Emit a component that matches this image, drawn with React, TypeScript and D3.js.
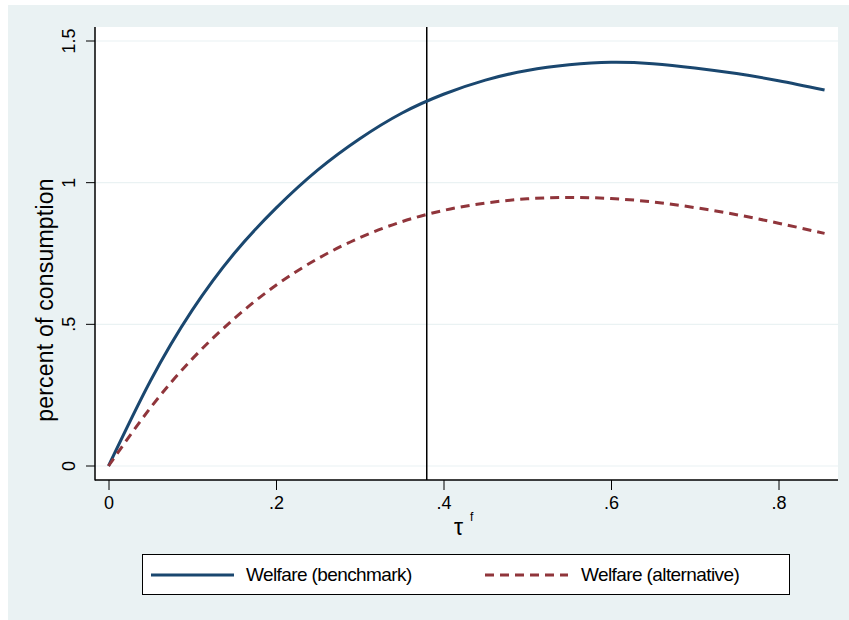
import React, { useRef, useEffect } from "react";
import * as d3 from "d3";

// values
const taus = [0, 0.05, 0.1, 0.15, 0.2, 0.25, 0.3, 0.35, 0.4, 0.45, 0.5, 0.55, 0.6, 0.65, 0.7, 0.75, 0.8, 0.855];
const benchmark = [0, 0.3, 0.55, 0.75, 0.91, 1.045, 1.155, 1.245, 1.312, 1.362, 1.396, 1.416, 1.425, 1.42, 1.405, 1.385, 1.36, 1.327];
const alternative = [0, 0.205, 0.378, 0.52, 0.638, 0.732, 0.806, 0.862, 0.902, 0.928, 0.943, 0.948, 0.944, 0.932, 0.912, 0.887, 0.857, 0.821];
const xTicks = [0, 0.2, 0.4, 0.6, 0.8];
const yTicks = [0, 0.5, 1, 1.5];
const marker = 0.38;
const seriesNames = ["Welfare (benchmark)", "Welfare (alternative)"];

const W = 849, H = 620;
const font = "'Liberation Sans', Arial, sans-serif";

const fmt = (v: number) => (v === 0 ? "0" : String(v).replace(/^0\./, "."));

const App = () => {
  const svgRef = useRef<SVGSVGElement>(null);

  useEffect(() => {
    const svg = d3.select(svgRef.current);
    svg.selectAll("*").remove();

    const plot = { left: 95, right: 838, top: 27, bottom: 480 };

    const x = d3.scaleLinear().domain([0, 0.8]).range([108.5, 778.5]);
    const y = d3.scaleLinear().domain([0, 1.5]).range([466, 41]);

    // outer background
    svg.append("rect")
      .attr("x", 8).attr("y", 5)
      .attr("width", W - 8).attr("height", H - 5)
      .attr("fill", "#eaf2f3");

    svg.append("rect")
      .attr("x", plot.left).attr("y", plot.top)
      .attr("width", plot.right - plot.left).attr("height", plot.bottom - plot.top)
      .attr("fill", "#ffffff");

    // grid
    svg.append("g").selectAll("line").data(yTicks).enter().append("line")
      .attr("x1", plot.left).attr("x2", plot.right)
      .attr("y1", d => y(d)).attr("y2", d => y(d))
      .attr("stroke", "#eaf2f3").attr("stroke-width", 1.2);

    // y axis
    const yAxis = svg.append("g")
      .attr("transform", `translate(${plot.left},0)`)
      .call(d3.axisLeft(y).tickValues(yTicks).tickSize(9).tickFormat(d => fmt(+d)));
    yAxis.select(".domain").remove();
    yAxis.selectAll("line").attr("stroke", "#000");
    yAxis.selectAll("text")
      .attr("x", null).attr("dy", null)
      .attr("transform", d => `translate(-20,${y(d as number)}) rotate(-90)`)
      .attr("y", 0)
      .attr("text-anchor", "middle")
      .attr("font-family", font).attr("font-size", 18).attr("fill", "#000");
    yAxis.selectAll(".tick").attr("transform", null);
    yAxis.selectAll(".tick line")
      .attr("y1", d => y(d as number)).attr("y2", d => y(d as number));

    // x axis
    const xAxis = svg.append("g")
      .attr("transform", `translate(0,${plot.bottom})`)
      .call(d3.axisBottom(x).tickValues(xTicks).tickSize(10).tickFormat(d => fmt(+d)));
    xAxis.select(".domain").remove();
    xAxis.selectAll("line").attr("stroke", "#000");
    xAxis.selectAll("text")
      .attr("y", 16).attr("dy", "0.71em")
      .attr("font-family", font).attr("font-size", 18).attr("fill", "#000");

    // axis lines
    svg.append("line")
      .attr("x1", plot.left).attr("x2", plot.left)
      .attr("y1", plot.top).attr("y2", plot.bottom + 0.5)
      .attr("stroke", "#000").attr("stroke-width", 1.5);
    svg.append("line")
      .attr("x1", plot.left).attr("x2", plot.right)
      .attr("y1", plot.bottom).attr("y2", plot.bottom)
      .attr("stroke", "#000").attr("stroke-width", 1.5);

    // marker line
    svg.append("line")
      .attr("x1", x(marker)).attr("x2", x(marker))
      .attr("y1", plot.top).attr("y2", plot.bottom)
      .attr("stroke", "#000").attr("stroke-width", 1.5);

    const lineGen = (vals: number[]) =>
      d3.line<number>()
        .x((_, i) => x(taus[i]))
        .y(d => y(d))
        .curve(d3.curveNatural)(vals);

    svg.append("path")
      .attr("d", lineGen(benchmark))
      .attr("fill", "none").attr("stroke", "#1a476f").attr("stroke-width", 3);
    svg.append("path")
      .attr("d", lineGen(alternative))
      .attr("fill", "none").attr("stroke", "#90353b").attr("stroke-width", 3)
      .attr("stroke-dasharray", "9,6");

    // axis titles
    svg.append("text")
      .attr("transform", "translate(53,300) rotate(-90)")
      .attr("text-anchor", "middle")
      .attr("font-family", font).attr("font-size", 23)
      .attr("letter-spacing", 0.2)
      .text("percent of consumption");

    const xt = svg.append("text")
      .attr("x", 454).attr("y", 535)
      .attr("font-family", font).attr("font-size", 23);
    xt.append("tspan").text("τ");
    xt.append("tspan").attr("dx", 7).attr("dy", -14).attr("font-size", 12).text("f");

    // legend
    const lg = svg.append("g");
    lg.append("rect")
      .attr("x", 142.5).attr("y", 554.5).attr("width", 647).attr("height", 40)
      .attr("fill", "#fff").attr("stroke", "#000").attr("stroke-width", 1);
    const items = [
      { x0: 151, color: "#1a476f", dash: null as string | null, tx: 246 },
      { x0: 485, color: "#90353b", dash: "9,6", tx: 581 },
    ];
    items.forEach((it, i) => {
      lg.append("line")
        .attr("x1", it.x0).attr("x2", it.x0 + 83)
        .attr("y1", 575).attr("y2", 575)
        .attr("stroke", it.color).attr("stroke-width", 3)
        .attr("stroke-dasharray", it.dash);
      lg.append("text")
        .attr("x", it.tx).attr("y", 581)
        .attr("font-family", font).attr("font-size", 19)
        .attr("letter-spacing", -0.6)
        .text(seriesNames[i]);
    });
  }, []);

  return (
    <svg
      ref={svgRef}
      width={W}
      height={H}
      style={{ position: "absolute", left: 0, top: 0, display: "block" }}
    />
  );
};

export default App;
